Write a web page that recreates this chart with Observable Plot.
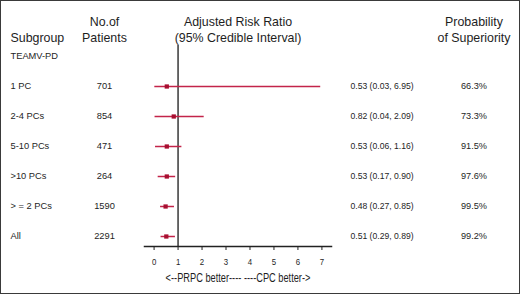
<!DOCTYPE html>
<html>
<head>
<meta charset="utf-8">
<script src="https://cdn.jsdelivr.net/npm/d3@7"></script>
<script src="https://cdn.jsdelivr.net/npm/@observablehq/plot@0.6"></script>
<style>
  html, body { margin: 0; padding: 0; background: #fff; }
  #chart svg { display: block; outline: 1.5px solid #3a3a3a; outline-offset: -1.5px; }
</style>
</head>
<body>
<div id="chart"></div>
<script>
// ---- data ----
const subgroups = ["TEAMV-PD", "1 PC", "2-4 PCs", "5-10 PCs", ">10 PCs", "> = 2 PCs", "All"];
const patients  = [null, 701, 854, 471, 264, 1590, 2291];
const ratio     = [null, 0.53, 0.82, 0.53, 0.53, 0.48, 0.51];
const lower     = [null, 0.03, 0.04, 0.06, 0.17, 0.27, 0.29];
const upper     = [null, 6.95, 2.09, 1.16, 0.90, 0.85, 0.89];
const probSup   = [null, 66.3, 73.3, 91.5, 97.6, 99.5, 99.2];
const xTicks    = [0, 1, 2, 3, 4, 5, 6, 7];
const headerLine1 = ["", "No.of", "Adjusted Risk Ratio", "Probability"];
const headerLine2 = ["Subgroup", "Patients", "(95% Credible Interval)", "of Superiority"];
const xLabel = "<--PRPC better---- ----CPC better->";

const rows = subgroups.map((g, i) => ({
  group: g, patients: patients[i], ratio: ratio[i], lower: lower[i], upper: upper[i], prob: probSup[i]
}));
const est = rows.filter(d => d.ratio != null);

const sans = "'Liberation Sans', Arial, Helvetica, sans-serif";
const barColor = "#c3244a";
const dotColor = "#a80f30";
const textColor = "#1e1e1e";

// column layout
const cols = [
  {anchor: "left",  dx: -134, ta: "start"},
  {anchor: "left",  dx: -40,  ta: "middle"},
  {anchor: null,    dx: 0,    ta: "middle"},
  {anchor: "right", dx: 142.5,ta: "middle"}
];

const headerMarks = [];
cols.forEach((c, i) => {
  const fa = c.anchor ? "top-" + c.anchor : "top";
  [[headerLine1[i], -28.5], [headerLine2[i], -12.7]].forEach(([t, dy]) => {
    if (t) headerMarks.push(Plot.text([t], {
      text: d => d, frameAnchor: fa, dx: c.dx, dy, textAnchor: c.ta,
      fontSize: 12.4, fill: textColor, fontFamily: sans
    }));
  });
});

const chart = Plot.plot({
  width: 520,
  height: 294,
  marginLeft: 144,
  marginRight: 189,
  marginTop: 45,
  marginBottom: 48,
  style: {fontFamily: sans, fontSize: "9px", background: "#fff", color: textColor},
  x: {domain: [-0.4, 7.4], axis: null},
  y: {type: "point", domain: subgroups, padding: 0.31, axis: null},
  marks: [
    Plot.ruleX([1], {stroke: "#444", strokeWidth: 1.6}),
    Plot.frame({anchor: "bottom", stroke: "#222", strokeWidth: 1.5}),
    Plot.axisX({ticks: xTicks, tickSize: 4, tickPadding: 8, label: null,
      fontSize: 9.8, stroke: "#222", fill: textColor, tickFormat: d => String(d)}),
    Plot.ruleY(est, {y: "group", x1: "lower", x2: "upper", stroke: barColor, strokeWidth: 1.5}),
    Plot.dot(est, {x: "ratio", y: "group", symbol: "square", r: 2.4, fill: dotColor}),
    Plot.text(rows, {y: "group", text: "group", frameAnchor: "left", dx: cols[0].dx, textAnchor: "start",
      fontSize: 9.3, fill: textColor}),
    Plot.text(est, {y: "group", text: d => String(d.patients), frameAnchor: "left", dx: cols[1].dx,
      textAnchor: "middle", fontSize: 9.3, fill: textColor}),
    Plot.text(est, {y: "group",
      text: d => `${d.ratio.toFixed(2)} (${d.lower.toFixed(2)}, ${d.upper.toFixed(2)})`,
      frameAnchor: "right", dx: 19, textAnchor: "start", fontSize: 8.6, fill: textColor}),
    Plot.text(est, {y: "group", text: d => d.prob.toFixed(1) + "%", frameAnchor: "right", dx: cols[3].dx,
      textAnchor: "middle", fontSize: 9.2, fill: textColor}),
    ...headerMarks,
    Plot.text([xLabel], {text: d => d, frameAnchor: "bottom", dy: 35,
      fontSize: 12, fill: textColor})
  ]
});
document.getElementById("chart").appendChild(chart);

// condensed look for axis texts (narrow typeface unavailable)
function condense(nodes, k) {
  nodes.forEach(node => {
    const L = node.getComputedTextLength();
    node.setAttribute("textLength", L * k);
    node.setAttribute("lengthAdjust", "spacingAndGlyphs");
  });
}
const allText = Array.from(chart.querySelectorAll("text"));
condense(allText.filter(t => t.textContent === xLabel), 0.77);
condense(Array.from(chart.querySelectorAll('g[aria-label="x-axis tick label"] text')), 0.8);
</script>
</body>
</html>
